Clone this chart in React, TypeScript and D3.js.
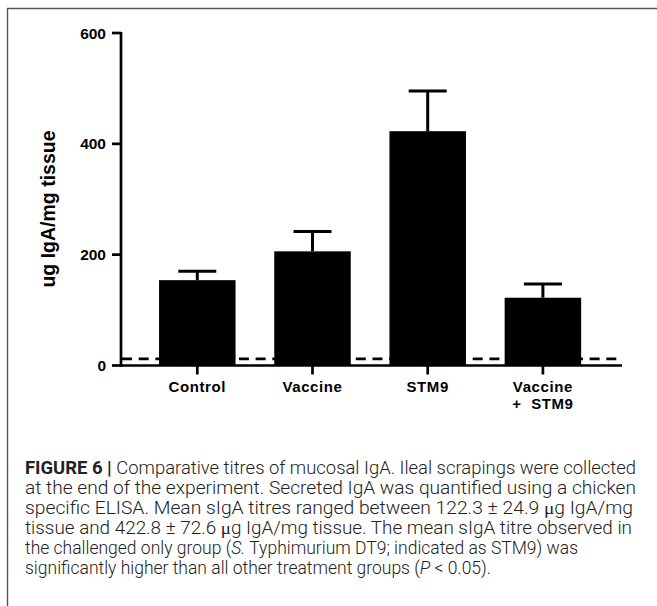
import React from "react";
import * as d3 from "d3";

const categories = ["Control", "Vaccine", "STM9", "Vaccine + STM9"];
const labelLines = [["Control"], ["Vaccine"], ["STM9"], ["Vaccine", "+  STM9"]];
const means = [154, 206, 422.8, 122.3];
const errors = [16, 36, 72.6, 24.9];
const yTicks = [0, 200, 400, 600];
const baselineValue = 12;
const yLabel = "ug IgA/mg tissue";

const W = 657;
const H = 606;

type Part = { t: string; bold?: boolean; italic?: boolean; serif?: boolean };

export default function App() {
  const y = d3.scaleLinear().domain([0, 600]).range([365.5, 33]);
  const x = d3
    .scaleBand<string>()
    .domain(categories)
    .range([139.7, 600.5])
    .paddingInner(0.336)
    .paddingOuter(0.168);

  const axisX = 121;
  const axisEnd = 622;
  const y0 = y(0);
  const chartFont = "'Liberation Sans', Arial, sans-serif";
  const capFont = "Roboto, 'Liberation Sans', sans-serif";

  const capLines: { parts: Part[]; len?: number }[] = [
    {
      parts: [
        { t: "FIGURE 6 | ", bold: true },
        { t: "Comparative titres of mucosal IgA. Ileal scrapings were collected" },
      ],
      len: 611,
    },
    { parts: [{ t: "at the end of the experiment. Secreted IgA was quantified using a chicken" }], len: 611 },
    {
      parts: [
        { t: "specific ELISA. Mean sIgA titres ranged between 122.3 \u00b1 24.9 " },
        { t: "\u03bc", serif: true },
        { t: "g IgA/mg" },
      ],
      len: 608,
    },
    {
      parts: [
        { t: "tissue and 422.8 \u00b1 72.6 " },
        { t: "\u03bc", serif: true },
        { t: "g IgA/mg tissue. The mean sIgA titre observed in" },
      ],
      len: 607,
    },
    {
      parts: [
        { t: "the challenged only group (" },
        { t: "S.", italic: true },
        { t: " Typhimurium DT9; indicated as STM9) was" },
      ],
    },
    {
      parts: [
        { t: "significantly higher than all other treatment groups (" },
        { t: "P", italic: true },
        { t: " < 0.05)." },
      ],
    },
  ];
  const capY0 = 474;
  const capStep = 20;

  return (
    <svg
      width={W}
      height={H}
      style={{ position: "absolute", left: 0, top: 0, background: "#fff" }}
    >
      {/* frame */}
      <line x1={7} y1={8.5} x2={W} y2={8.5} stroke="#555" strokeWidth={1.6} />
      <line x1={7.5} y1={8} x2={7.5} y2={H} stroke="#555" strokeWidth={1.4} />

      {/* dashed baseline */}
      <line
        x1={axisX + 1}
        x2={axisEnd}
        y1={y(baselineValue)}
        y2={y(baselineValue)}
        stroke="#000"
        strokeWidth={2.7}
        strokeDasharray="10 6.7"
      />

      {/* bars */}
      {categories.map((c, i) => (
        <rect
          key={c}
          x={x(c)}
          y={y(means[i])}
          width={x.bandwidth()}
          height={y0 - y(means[i])}
          fill="#000"
        />
      ))}

      {/* error bars */}
      {categories.map((c, i) => {
        const cx = (x(c) as number) + x.bandwidth() / 2;
        const top = y(means[i] + errors[i]);
        return (
          <g key={c + "e"} stroke="#000" strokeWidth={3}>
            <line x1={cx} x2={cx} y1={y(means[i])} y2={top} />
            <line x1={cx - 19} x2={cx + 19} y1={top} y2={top} />
          </g>
        );
      })}

      {/* axes */}
      <line x1={axisX} x2={axisX} y1={y(600) - 1} y2={y0 + 1.3} stroke="#000" strokeWidth={2.7} />
      <line x1={axisX - 1.3} x2={axisEnd} y1={y0} y2={y0} stroke="#000" strokeWidth={2.7} />

      {yTicks.map((t) => (
        <g key={t}>
          <line x1={axisX - 9} x2={axisX} y1={y(t)} y2={y(t)} stroke="#000" strokeWidth={2.7} />
          <text
            x={axisX - 15}
            y={y(t)}
            dy="0.36em"
            textAnchor="end"
            fontFamily={chartFont}
            fontWeight="bold"
            fontSize={15.5}
            fill="#000"
          >
            {t}
          </text>
        </g>
      ))}

      {categories.map((c, i) => {
        const cx = (x(c) as number) + x.bandwidth() / 2;
        return (
          <g key={c + "t"}>
            <line x1={cx} x2={cx} y1={y0} y2={y0 + 9} stroke="#000" strokeWidth={2.7} />
            {labelLines[i].map((ln, j) => (
              <text
                key={j}
                x={cx}
                y={391.7 + j * 17.6}
                textAnchor="middle"
                fontFamily={chartFont}
                fontWeight="bold"
                fontSize={15}
                letterSpacing={0.6}
                fill="#000"
                style={{ whiteSpace: "pre" }}
              >
                {ln}
              </text>
            ))}
          </g>
        );
      })}

      <text
        transform={`translate(55,${209}) rotate(-90)`}
        textAnchor="middle"
        fontFamily={chartFont}
        fontWeight="bold"
        fontSize={19.5}
        fill="#000"
      >
        {yLabel}
      </text>

      {/* caption */}
      {capLines.map((ln, i) => (
        <text
          key={i}
          x={25}
          y={capY0 + i * capStep}
          fontFamily={capFont}
          fontWeight={300}
          fontSize={17.5}
          fill="#222"
          textLength={ln.len}
          lengthAdjust={ln.len ? "spacingAndGlyphs" : undefined}
          style={{ whiteSpace: "pre" }}
        >
          {ln.parts.map((p, k) => (
            <tspan
              key={k}
              fontWeight={p.bold ? 700 : 300}
              fontStyle={p.italic ? "italic" : "normal"}
              fontFamily={p.serif ? "'Liberation Serif', serif" : capFont}
            >
              {p.t}
            </tspan>
          ))}
        </text>
      ))}
    </svg>
  );
}
